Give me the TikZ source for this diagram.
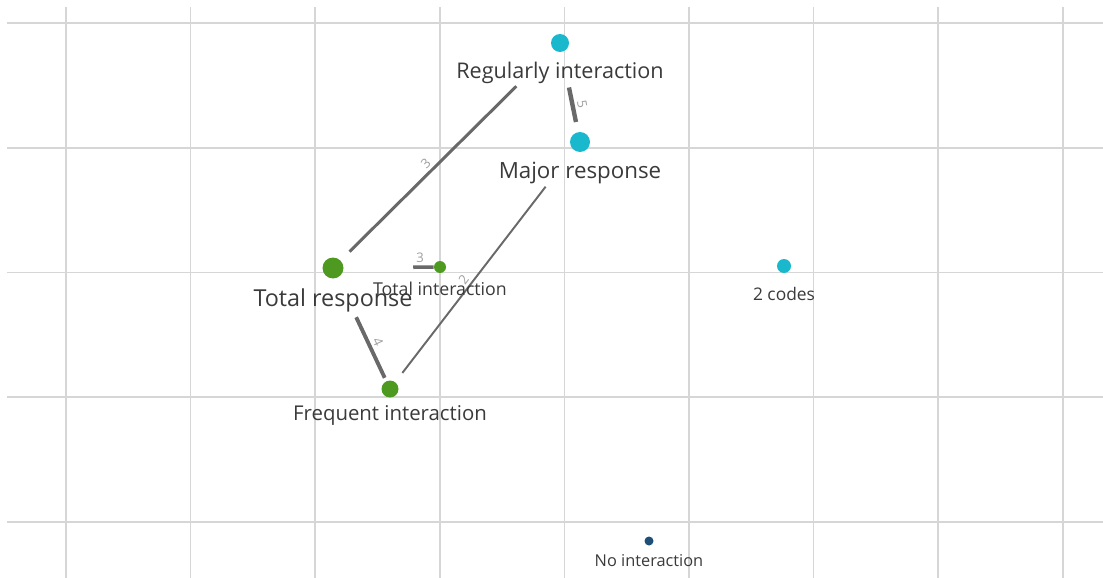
\documentclass[tikz,border=0pt]{standalone}
\usepackage{fontspec}
\setmainfont{Open Sans}
\definecolor{codecyan}{RGB}{26,184,204}
\definecolor{codegreen}{RGB}{78,154,32}
\definecolor{codenavy}{RGB}{31,78,121}
\definecolor{linkgray}{RGB}{105,105,105}
\definecolor{gridgray}{RGB}{214,214,214}
\definecolor{labelgray}{RGB}{58,58,58}

\begin{document}
\begin{tikzpicture}[
    x=0.02cm, y=-0.02cm,
    gridline/.style={draw=gridgray, line width=0.9pt},
    code/.style={circle, inner sep=0pt, minimum size=#1},
    lbl/.style={text=labelgray, inner sep=0pt, font=\fontsize{#1}{#1}\selectfont},
    link/.style={draw=linkgray, line width=#1},
    weight/.style={sloped, above, inner sep=1.5pt, text=gray!75, font=\fontsize{7.5}{7.5}\selectfont}
]
    \useasboundingbox (0,0) rectangle (1103,578);
    % Grid
    \foreach \k in {0,...,8}
        \draw[gridline] (66+124.6*\k,7) -- (66+124.6*\k,578);
    \foreach \k in {0,...,4}
        \draw[gridline] (7,23+124.75*\k) -- (1103,23+124.75*\k);

    % Codes
    \node[code=0.36cm, fill=codecyan] (regular) at (560,43) {};
    \node[code=0.40cm, fill=codecyan] (major) at (580,142) {};
    \node[code=0.42cm, fill=codegreen] (totresp) at (333,268) {};
    \node[code=0.24cm, fill=codegreen] (totint) at (440,267) {};
    \node[code=0.34cm, fill=codegreen] (frequent) at (390,389) {};
    \node[code=0.28cm, fill=codecyan] (twocodes) at (784,266) {};
    \node[code=0.18cm, fill=codenavy] (nointer) at (649,541) {};

    % Links
    \draw[link=1.7pt, shorten <=7.1pt, shorten >=29.6pt] (totresp) -- node[weight, pos=0.43] {3} (regular);
    \draw[link=2.5pt, shorten <=20.5pt, shorten >=5.7pt] (regular) -- node[weight, pos=0.68] {5} (major);
    \draw[link=2pt, shorten <=39.5pt] (totresp) -- node[weight, pos=0.85] {3} (totint);
    \draw[link=1.1pt, shorten <=6.5pt, shorten >=26.2pt] (frequent) -- node[weight, pos=0.42] {2} (major);
    \draw[link=2.2pt, shorten <=24.8pt, shorten >=2pt] (totresp) -- node[weight, pos=0.66] {4} (frequent);

    % Labels
    \node[lbl=12.3] (regular-l) at (560,73) {Regularly interaction};
    \node[lbl=12.7] (major-l) at (580,173) {Major response};
    \node[lbl=13.3] (totresp-l) at (333,300) {Total response};
    \node[lbl=10.1] (totint-l) at (440,289) {Total interaction};
    \node[lbl=11.6] (frequent-l) at (390,415) {Frequent interaction};
    \node[lbl=9.9] (twocodes-l) at (784,294) {2 codes};
    \node[lbl=9.3] (nointer-l) at (649,561) {No interaction};
\end{tikzpicture}
\end{document}
